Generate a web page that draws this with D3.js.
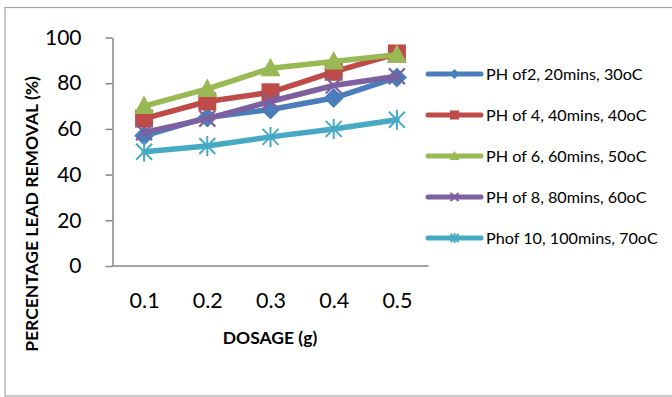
<!DOCTYPE html>
<html>
<head>
<meta charset="utf-8">
<script src="https://cdn.jsdelivr.net/npm/d3@7"></script>
<style>
  body { margin: 0; background: #fff; }
  svg text { font-family: Lato, "Open Sans", sans-serif; fill: #000; }
</style>
</head>
<body>
<div id="chart"></div>
<script>
// data
var dosages = ["0.1", "0.2", "0.3", "0.4", "0.5"];
var seriesNames = ["PH of2, 20mins, 30oC", "PH of 4, 40mins, 40oC", "PH of 6, 60mins, 50oC",
                   "PH of 8, 80mins, 60oC", "Phof 10, 100mins, 70oC"];
var ph2  = [57, 65, 68.5, 73.5, 82.5];
var ph4  = [64.5, 72, 76, 85, 93];
var ph6  = [70, 77.5, 86.5, 89.5, 92.5];
var ph8  = [58.5, 64.5, 72, 79, 83];
var ph10 = [50, 52.5, 56.5, 60, 64];
var yTicks = [0, 20, 40, 60, 80, 100];

var colors = ["#4a7ebb", "#be4b48", "#98b954", "#7d60a0", "#46aac5"];
var markers = ["diamond", "square", "triangle", "cross", "star"];
var allSeries = [ph2, ph4, ph6, ph8, ph10];

var width = 672, height = 397;

var svg = d3.select("#chart")
  .append("svg")
    .attr("width", width)
    .attr("height", height);

// outer chart border
svg.append("rect")
  .attr("x", 5).attr("y", 7.5)
  .attr("width", 700).attr("height", 388.5)
  .attr("fill", "none")
  .attr("stroke", "#a6a6a6")
  .attr("stroke-width", 1.2);

var x = d3.scalePoint()
  .domain(dosages)
  .range([112.5, 428.5])
  .padding(0.5);

var y = d3.scaleLinear()
  .domain([0, 100])
  .range([266, 37.5]);

// y axis
var yAxis = svg.append("g")
  .attr("transform", "translate(112.5,0)")
  .call(d3.axisLeft(y).tickValues(yTicks).tickSize(7).tickPadding(24).tickSizeOuter(0));
yAxis.select(".domain").attr("stroke", "#868686").attr("stroke-width", 1.5);
yAxis.selectAll(".tick line").attr("stroke", "#868686").attr("stroke-width", 1.5);
yAxis.selectAll("text").style("font-size", "21px").attr("font-family", null);

// x axis (no tick marks)
var xAxis = svg.append("g")
  .attr("transform", "translate(0,266)")
  .call(d3.axisBottom(x).tickSize(0).tickPadding(27).tickSizeOuter(0));
xAxis.select(".domain").attr("d", "M112.5,0H428.5").attr("stroke", "#868686").attr("stroke-width", 1.5);
xAxis.selectAll("text").style("font-size", "21.5px").attr("font-family", null);

// axis titles
svg.append("text")
  .attr("x", 270).attr("y", 344)
  .attr("text-anchor", "middle")
  .style("font-size", "17.5px")
  .style("font-weight", "bold")
  .text("DOSAGE (g)");

svg.append("text")
  .attr("transform", "translate(38,214)rotate(-90)")
  .attr("text-anchor", "middle")
  .style("font-size", "17.5px")
  .style("font-weight", "bold")
  .text("PERCENTAGE LEAD REMOVAL (%)");

function drawMarker(g, type, color, s) {
  if (type == "diamond") {
    g.append("path").attr("d", "M0," + (-s) + "L" + s + ",0L0," + s + "L" + (-s) + ",0Z").attr("fill", color);
  } else if (type == "square") {
    g.append("rect").attr("x", -s * 0.9).attr("y", -s * 0.9).attr("width", s * 1.8).attr("height", s * 1.8).attr("fill", color);
  } else if (type == "triangle") {
    g.append("path").attr("d", "M0," + (-s * 1.05) + "L" + s + "," + (s * 0.8) + "L" + (-s) + "," + (s * 0.8) + "Z").attr("fill", color);
  } else if (type == "cross") {
    g.append("path").attr("d", "M" + (-s * 0.8) + "," + (-s * 0.8) + "L" + (s * 0.8) + "," + (s * 0.8) + "M" + (s * 0.8) + "," + (-s * 0.8) + "L" + (-s * 0.8) + "," + (s * 0.8))
      .attr("stroke", color).attr("stroke-width", 2.2);
  } else if (type == "star") {
    g.append("path").attr("d", "M" + (-s * 0.8) + "," + (-s * 0.8) + "L" + (s * 0.8) + "," + (s * 0.8) + "M" + (s * 0.8) + "," + (-s * 0.8) + "L" + (-s * 0.8) + "," + (s * 0.8) + "M0," + (-s) + "V" + s)
      .attr("stroke", color).attr("stroke-width", 2);
  }
}

var line = d3.line()
  .x(function(d, i) { return x(dosages[i]); })
  .y(function(d) { return y(d); });

allSeries.forEach(function(vals, k) {
  svg.append("path")
    .datum(vals)
    .attr("d", line)
    .attr("fill", "none")
    .attr("stroke", colors[k])
    .attr("stroke-width", 5.5)
    .attr("stroke-linejoin", "round")
    .attr("stroke-linecap", "round");

  vals.forEach(function(v, i) {
    var g = svg.append("g").attr("transform", "translate(" + x(dosages[i]) + "," + y(v) + ")");
    drawMarker(g, markers[k], colors[k], 10);
  });
});

// legend
var legend = svg.append("g");
seriesNames.forEach(function(name, k) {
  var ly = 74 + k * 41;
  legend.append("line")
    .attr("x1", 428).attr("x2", 481)
    .attr("y1", ly).attr("y2", ly)
    .attr("stroke", colors[k])
    .attr("stroke-width", 5)
    .attr("stroke-linecap", "round");
  var g = legend.append("g").attr("transform", "translate(454.5," + ly + ")");
  drawMarker(g, markers[k], colors[k], 5);
  legend.append("text")
    .attr("x", 486).attr("y", ly)
    .attr("dy", "0.35em")
    .style("font-size", "16.2px")
    .text(name);
});
</script>
</body>
</html>
